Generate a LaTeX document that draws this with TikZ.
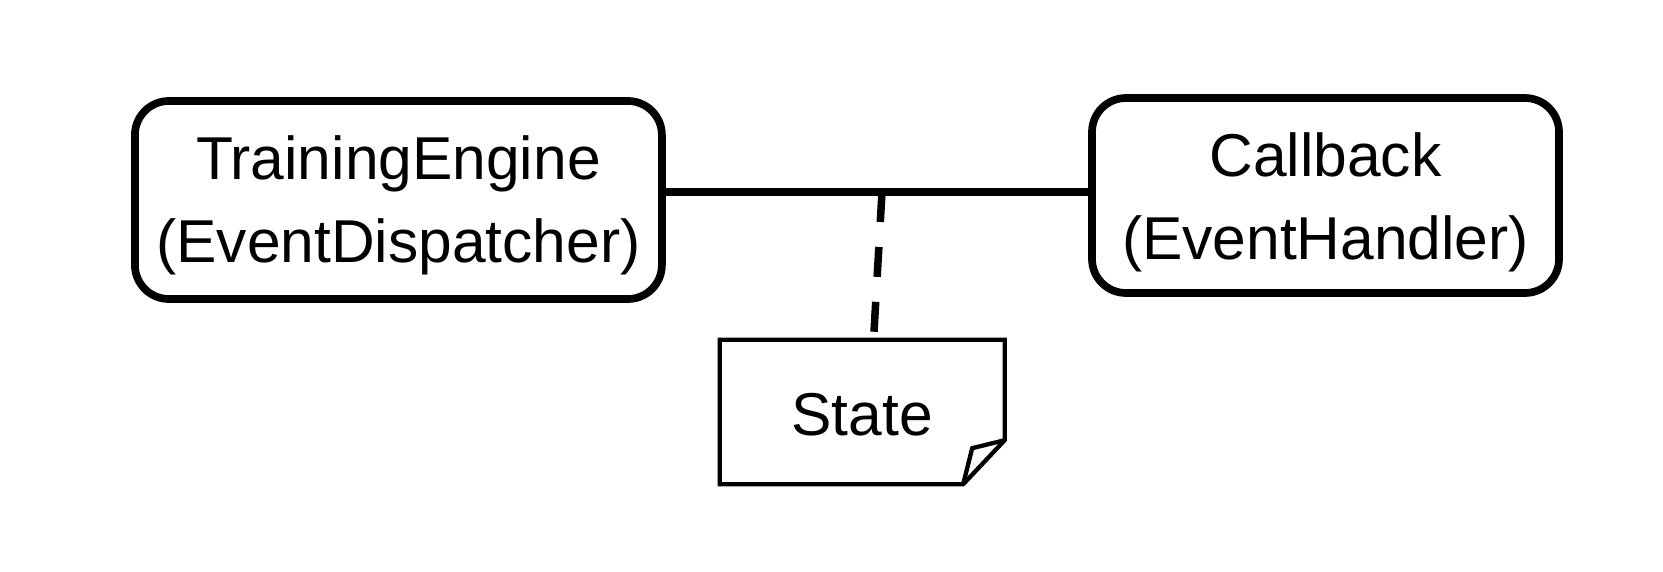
\documentclass[tikz,border=0pt]{standalone}
\usepackage{fontspec}
\setmainfont{Liberation Sans}
\begin{document}
\begin{tikzpicture}[x=1pt,y=1pt,
  boxtext/.style={font=\fontsize{60.5}{83.3}\selectfont, align=center, inner sep=0pt},
  rbox/.style={draw, line width=7.7pt, rounded corners=34pt, inner sep=0pt},
  link/.style={line width=7.7pt},
  reflink/.style={line width=7.5pt, dash pattern=on 30pt off 25pt},
  notepath/.style={line width=4.3pt, line join=miter},
  notebox/.style={inner sep=0pt}]
\useasboundingbox (0,0) rectangle (1663,571);

% the two components
\node[rbox, minimum width=527pt, minimum height=198pt] (L) at (398.4,371) {};
\node[boxtext] (Lt) at ([yshift=-5.5pt]L.center) {TrainingEngine\\(EventDispatcher)};
\node[rbox, minimum width=467pt, minimum height=195pt] (R) at (1325.5,375.5) {};
\node[boxtext] (Rt) at ([yshift=-7pt]R.center) {Callback\\(EventHandler)};

% association between them
\coordinate (J) at (882,379);
\draw[link] (L.east |- J) -- (R.west |- J);

% the note attached to the association
\node[notebox, minimum width=284.5pt, minimum height=144pt] (S) at (862.25,159) {};
\node[boxtext] (St) at ([yshift=-3pt]S.center) {State};
\draw[notepath]
  (S.north west) -- (S.north east) -- ([yshift=44pt]S.south east)
  -- ([xshift=-41.5pt]S.south east) -- (S.south west) -- cycle;
\draw[notepath]
  ([yshift=44pt]S.south east) -- ([xshift=-32.5pt,yshift=36pt]S.south east)
  -- ([xshift=-41.5pt]S.south east);
\draw[reflink] (J) -- ([shift={(11.75pt,8pt)}]S.north);
\end{tikzpicture}
\end{document}
